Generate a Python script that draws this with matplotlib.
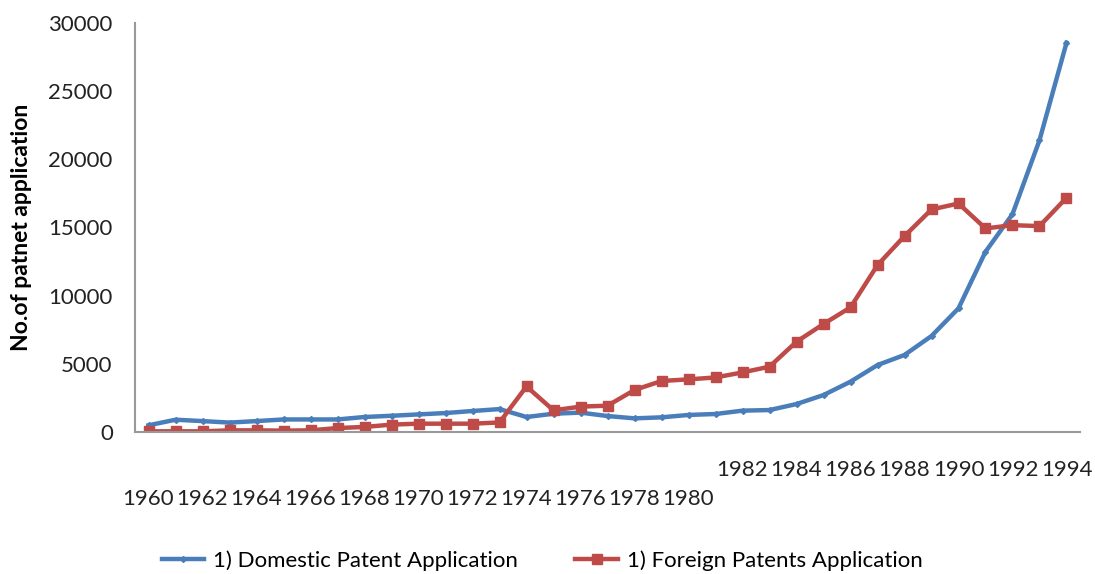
import matplotlib
matplotlib.use("Agg")
import matplotlib.pyplot as plt

plt.rcParams['font.family'] = ['Lato', 'DejaVu Sans']

years = list(range(1960, 1995))
domestic = [490, 900, 800, 690, 800, 920, 920, 920, 1100, 1190, 1290, 1390, 1540, 1680,
            1100, 1340, 1420, 1170, 1000, 1075, 1250, 1320, 1565, 1610, 2050, 2710,
            3690, 4910, 5650, 7040, 9070, 13220, 15980, 21400, 28540]
foreign = [50, 50, 50, 120, 120, 100, 120, 290, 370, 540, 610, 610, 610, 700,
           3340, 1590, 1860, 1930, 3080, 3740, 3860, 4000, 4370, 4790, 6620, 7920,
           9140, 12240, 14370, 16320, 16760, 14930, 15170, 15100, 17180]

blue = '#4a7ebb'
red = '#be4b48'

fig = plt.figure(figsize=(10.95, 5.74), dpi=100)
ax = fig.add_axes([0.1233, 0.2474, 0.863, 0.7126])

x = list(range(len(years)))
ax.plot(x, domestic, '-', marker='D', ms=3, lw=3.2, color=blue,
        label='1) Domestic Patent Application')
ax.plot(x, foreign, '-', marker='s', ms=6.5, lw=3.2, color=red,
        label='1) Foreign Patents Application')

ax.set_xlim(-0.5, 34.5)
ax.set_ylim(0, 30000)
ax.set_yticks(range(0, 30001, 5000))
ax.set_xticks(x[::2])
ax.set_xticklabels([str(y) for y in years[::2]])
ax.tick_params(length=0, labelsize=16, colors='#222222')
ax.tick_params(axis='y', pad=16)
# staggered year labels like the original
for t, yr in zip(ax.xaxis.get_major_ticks(), years[::2]):
    t.set_pad(20 if yr >= 1982 else 41)

for s in ['top', 'right']:
    ax.spines[s].set_visible(False)
for s in ['left', 'bottom']:
    ax.spines[s].set_color('#999999')
    ax.spines[s].set_linewidth(1.5)

ax.set_ylabel('No.of patnet application', fontsize=16.5, fontweight='bold', labelpad=12)

fig.legend(loc='center', bbox_to_anchor=(0.495, 0.023), ncol=2, frameon=False,
           fontsize=16, handlelength=1.9, columnspacing=2.6, handletextpad=0.4)

fig.savefig('out.png', dpi=100)
